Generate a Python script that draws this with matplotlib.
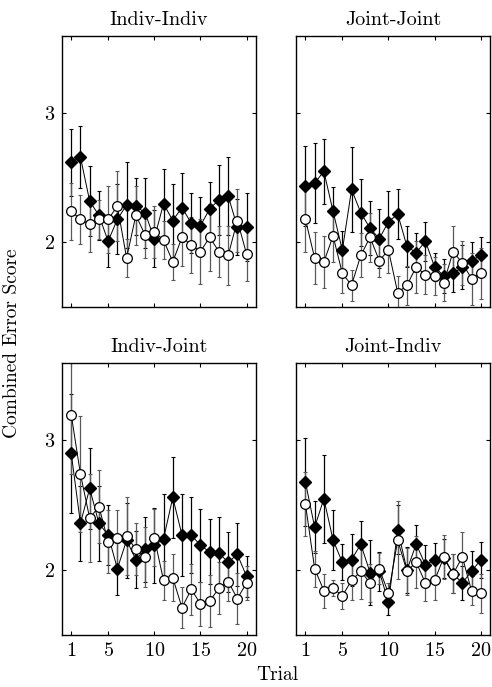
"""
Combined error score by trial, four pairing conditions
"""

import numpy as np
import matplotlib
matplotlib.use('Agg')
import matplotlib.pyplot as plt

plt.rcParams['font.family'] = ['cmr10', 'DejaVu Serif']
plt.rcParams['axes.formatter.use_mathtext'] = True
plt.rcParams['mathtext.fontset'] = 'cm'

trials = np.arange(1, 21)
panel_titles = ['Indiv-Indiv', 'Joint-Joint', 'Indiv-Joint', 'Joint-Indiv']

# filled diamonds (mean, error)
ii_dia = [2.62, 2.66, 2.32, 2.21, 2.01, 2.18, 2.29, 2.28, 2.23, 2.03,
          2.30, 2.17, 2.27, 2.15, 2.13, 2.26, 2.33, 2.36, 2.12, 2.12]
ii_dia_err = [0.26, 0.24, 0.27, 0.19, 0.20, 0.27, 0.33, 0.22, 0.27, 0.22,
              0.27, 0.28, 0.27, 0.23, 0.22, 0.21, 0.27, 0.30, 0.22, 0.26]
# open circles
ii_cir = [2.24, 2.18, 2.14, 2.18, 2.18, 2.28, 1.88, 2.21, 2.06, 2.08,
          2.02, 1.85, 2.04, 1.98, 1.93, 2.04, 1.93, 1.90, 2.17, 1.91]
ii_cir_err = [0.22, 0.19, 0.21, 0.15, 0.26, 0.27, 0.15, 0.23, 0.18, 0.20,
              0.15, 0.14, 0.22, 0.22, 0.25, 0.26, 0.20, 0.23, 0.24, 0.21]

jj_dia = [2.44, 2.46, 2.55, 2.24, 1.94, 2.41, 2.23, 2.11, 2.03, 2.16,
          2.22, 1.97, 1.92, 2.01, 1.81, 1.74, 1.76, 1.81, 1.86, 1.90]
jj_dia_err = [0.31, 0.31, 0.25, 0.19, 0.15, 0.33, 0.26, 0.21, 0.23, 0.24,
              0.19, 0.16, 0.15, 0.15, 0.11, 0.13, 0.14, 0.17, 0.14, 0.14]
jj_cir = [2.18, 1.88, 1.85, 2.05, 1.76, 1.67, 1.90, 2.04, 1.86, 1.94,
          1.61, 1.67, 1.81, 1.75, 1.74, 1.69, 1.93, 1.84, 1.72, 1.76]
jj_cir_err = [0.25, 0.20, 0.20, 0.20, 0.15, 0.12, 0.17, 0.19, 0.13, 0.18,
              0.13, 0.15, 0.20, 0.15, 0.15, 0.14, 0.20, 0.17, 0.20, 0.20]

ij_dia = [2.90, 2.36, 2.63, 2.36, 2.27, 2.01, 2.23, 2.08, 2.16, 2.19,
          2.24, 2.56, 2.27, 2.27, 2.19, 2.14, 2.13, 2.06, 2.12, 1.95]
ij_dia_err = [0.46, 0.29, 0.31, 0.29, 0.23, 0.20, 0.29, 0.22, 0.25, 0.29,
              0.35, 0.31, 0.32, 0.29, 0.28, 0.25, 0.28, 0.23, 0.24, 0.16]
ij_cir = [3.20, 2.74, 2.40, 2.49, 2.22, 2.25, 2.26, 2.16, 2.10, 2.25,
          1.92, 1.94, 1.71, 1.85, 1.74, 1.76, 1.86, 1.91, 1.78, 1.90]
ij_cir_err = [0.46, 0.45, 0.34, 0.28, 0.24, 0.21, 0.30, 0.20, 0.23, 0.22,
              0.15, 0.18, 0.16, 0.20, 0.17, 0.20, 0.20, 0.15, 0.20, 0.13]

ji_dia = [2.68, 2.33, 2.55, 2.23, 2.06, 2.08, 2.20, 1.98, 1.99, 1.75,
          2.31, 2.00, 2.20, 2.04, 2.08, 2.09, 1.97, 1.90, 1.99, 2.08]
ji_dia_err = [0.34, 0.20, 0.34, 0.23, 0.14, 0.20, 0.18, 0.25, 0.15, 0.10,
              0.19, 0.18, 0.15, 0.15, 0.13, 0.15, 0.15, 0.13, 0.16, 0.14]
ji_cir = [2.51, 2.01, 1.84, 1.86, 1.80, 1.92, 1.99, 1.90, 2.01, 1.82,
          2.23, 1.99, 2.06, 1.90, 1.92, 2.10, 1.97, 2.10, 1.84, 1.82]
ji_cir_err = [0.25, 0.14, 0.13, 0.06, 0.10, 0.15, 0.21, 0.15, 0.12, 0.08,
              0.30, 0.18, 0.20, 0.14, 0.15, 0.17, 0.15, 0.19, 0.11, 0.15]

panels = [
    (ii_dia, ii_dia_err, ii_cir, ii_cir_err),
    (jj_dia, jj_dia_err, jj_cir, jj_cir_err),
    (ij_dia, ij_dia_err, ij_cir, ij_cir_err),
    (ji_dia, ji_dia_err, ji_cir, ji_cir_err),
]

fig = plt.figure(figsize=(4.92, 6.87), dpi=100)
positions = [
    [0.126, 0.553, 0.394, 0.395],
    [0.602, 0.553, 0.394, 0.395],
    [0.126, 0.076, 0.394, 0.396],
    [0.602, 0.076, 0.394, 0.396],
]

for i, (pos, title, data) in enumerate(zip(positions, panel_titles, panels)):
    dia, dia_err, cir, cir_err = data
    ax = fig.add_axes(pos)

    ax.errorbar(trials, dia, yerr=dia_err, fmt='none', ecolor='black',
                elinewidth=0.9, capsize=1.5, capthick=0.8, zorder=2)
    ax.errorbar(trials, cir, yerr=cir_err, fmt='none', ecolor='0.35',
                elinewidth=0.9, capsize=1.5, capthick=0.8, zorder=2)
    ax.plot(trials, dia, color='black', lw=0.7, marker='D', ms=5.8,
            mfc='black', mec='black', zorder=3)
    ax.plot(trials, cir, color='black', lw=0.7, marker='o', ms=7,
            mfc='white', mec='black', mew=0.9, zorder=4)

    ax.set_xlim(0, 21)
    ax.set_ylim(1.5, 3.6)
    ax.set_xticks([1, 5, 10, 15, 20])
    ax.set_yticks([2, 3])
    ax.tick_params(direction='in', top=True, right=True, length=3,
                   width=0.8, labelsize=14.5, pad=5)
    for s in ax.spines.values():
        s.set_linewidth(1.0)
    if i % 2 == 1:
        ax.set_yticklabels([])
    if i < 2:
        ax.set_xticklabels([])
    ax.set_title(title, fontsize=14.5, pad=8)

fig.text(0.025, 0.5, 'Combined Error Score', rotation=90, fontsize=14,
         ha='center', va='center')
fig.text(0.563, 0.017, 'Trial', fontsize=14, ha='center', va='center')

plt.savefig('out.png', dpi=100)
